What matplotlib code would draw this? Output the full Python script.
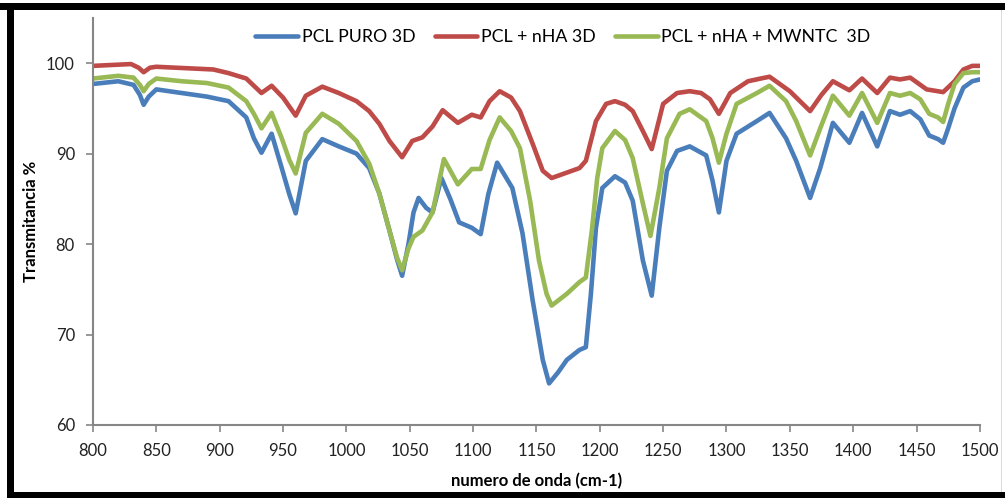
import matplotlib
matplotlib.use("Agg")
import matplotlib.pyplot as plt
from matplotlib.patches import Rectangle

# FTIR transmittance readings
wn_puro = [800, 820, 832, 837, 840, 844, 850, 870, 890, 907, 921, 927, 933, 941, 949, 955, 960,
           968, 981, 994, 1008, 1018, 1026, 1034, 1040, 1044, 1049, 1053, 1057, 1063, 1068,
           1075, 1082, 1089, 1099, 1106, 1112, 1119, 1131, 1139, 1147, 1155, 1160, 1167, 1174,
           1184, 1189, 1193, 1197, 1202, 1212, 1220, 1226, 1234, 1241, 1247, 1253, 1261, 1271,
           1284, 1289, 1294, 1300, 1308, 1324, 1334, 1347, 1355, 1366, 1374, 1384, 1397, 1407,
           1419, 1429, 1437, 1445, 1453, 1460, 1467, 1471, 1475, 1480, 1487, 1494, 1500]
t_puro = [97.7, 98.0, 97.6, 96.5, 95.4, 96.3, 97.1, 96.7, 96.3, 95.8, 94.0, 91.7, 90.1, 92.2, 88.4, 85.5, 83.4,
          89.2, 91.6, 90.8, 90.0, 88.4, 85.6, 81.5, 78.3, 76.5, 80.0, 83.5, 85.1, 84.0, 83.5,
          87.3, 85.0, 82.4, 81.8, 81.1, 85.5, 89.0, 86.2, 81.2, 73.8, 67.2, 64.6, 65.8, 67.2,
          68.3, 68.6, 74.5, 81.8, 86.2, 87.5, 86.8, 84.8, 78.2, 74.3, 81.8, 88.1, 90.3, 90.8,
          89.8, 87.0, 83.5, 89.2, 92.2, 93.6, 94.5, 91.7, 89.2, 85.1, 88.4, 93.4, 91.2, 94.5,
          90.8, 94.7, 94.3, 94.7, 93.8, 92.0, 91.6, 91.2, 92.8, 95.0, 97.3, 98.0, 98.2]

wn_nha = [800, 830, 836, 840, 845, 850, 880, 895, 907, 921, 933, 941, 950, 960, 968, 981, 994,
          1008, 1018, 1026, 1034, 1044, 1052, 1060, 1068, 1076, 1088, 1099, 1106, 1113, 1121,
          1130, 1137, 1147, 1155, 1162, 1184, 1189, 1197, 1205, 1212, 1220, 1226, 1234, 1241,
          1250, 1261, 1271, 1280, 1287, 1294, 1303, 1317, 1327, 1334, 1350, 1366, 1375, 1384,
          1397, 1407, 1419, 1429, 1437, 1445, 1458, 1471, 1480, 1487, 1494, 1500]
t_nha = [99.7, 99.9, 99.5, 99.0, 99.5, 99.6, 99.4, 99.3, 98.9, 98.3, 96.7, 97.5, 96.2, 94.2, 96.4, 97.4, 96.7,
         95.8, 94.7, 93.3, 91.4, 89.6, 91.4, 91.8, 93.0, 94.8, 93.4, 94.3, 94.0, 95.8, 96.9,
         96.2, 94.7, 91.1, 88.1, 87.3, 88.4, 89.2, 93.6, 95.5, 95.8, 95.4, 94.7, 92.5, 90.5,
         95.5, 96.7, 96.9, 96.7, 96.0, 94.4, 96.7, 98.0, 98.3, 98.5, 96.9, 94.7, 96.5, 98.0,
         97.0, 98.3, 96.7, 98.4, 98.2, 98.4, 97.1, 96.8, 98.0, 99.3, 99.7, 99.7]

wn_mwntc = [800, 820, 832, 837, 840, 844, 850, 870, 890, 907, 921, 927, 933, 941, 949, 955, 960,
            968, 981, 994, 1008, 1018, 1026, 1034, 1040, 1044, 1049, 1053, 1060, 1068, 1077,
            1088, 1099, 1106, 1113, 1121, 1130, 1137, 1145, 1152, 1158, 1162, 1174, 1184, 1189,
            1194, 1198, 1202, 1212, 1220, 1226, 1234, 1240, 1247, 1253, 1263, 1271, 1284, 1289,
            1294, 1300, 1308, 1324, 1334, 1347, 1355, 1366, 1374, 1384, 1397, 1407, 1419, 1429,
            1437, 1445, 1453, 1460, 1467, 1471, 1475, 1480, 1487, 1494, 1500]
t_mwntc = [98.3, 98.6, 98.4, 97.6, 96.9, 97.7, 98.3, 98.0, 97.8, 97.3, 95.8, 94.4, 92.8, 94.5, 91.7, 89.3, 87.8,
           92.3, 94.4, 93.3, 91.4, 88.9, 85.6, 81.5, 78.5, 77.1, 79.5, 80.8, 81.5, 83.5, 89.4,
           86.6, 88.3, 88.3, 91.5, 94.0, 92.5, 90.6, 84.8, 78.2, 74.5, 73.2, 74.5, 75.8, 76.3,
           81.8, 87.3, 90.6, 92.5, 91.5, 89.5, 84.5, 80.9, 86.2, 91.7, 94.4, 94.9, 93.6, 91.7,
           89.0, 92.2, 95.5, 96.7, 97.5, 95.8, 93.6, 89.8, 92.8, 96.4, 94.2, 96.7, 93.4, 96.7,
           96.4, 96.7, 96.0, 94.4, 94.0, 93.5, 95.5, 97.7, 98.9, 99.0, 99.0]

labels = ["PCL PURO 3D", "PCL + nHA 3D", "PCL + nHA + MWNTC  3D"]
colors = ["#4A7EBB", "#BE4B48", "#98B954"]

plt.rcParams['font.family'] = ['Lato', 'DejaVu Sans']

fig = plt.figure(figsize=(10.05, 4.98), dpi=100)
ax = fig.add_axes([0.0925, 0.1466, 0.8825, 0.8174])

for wn, t, lab, c in zip([wn_puro, wn_nha, wn_mwntc], [t_puro, t_nha, t_mwntc], labels, colors):
    ax.plot(wn, t, color=c, lw=3.3, label=lab, solid_joinstyle='round', solid_capstyle='round')

ax.set_xlim(800, 1500)
ax.set_ylim(60, 105)
ax.set_xticks(range(800, 1501, 50))
ax.set_yticks(range(60, 101, 10))
ax.tick_params(direction='out', length=5, width=1.2, color='#868686', labelsize=12, pad=8,
               labelcolor='#222222')
for s in ['top', 'right']:
    ax.spines[s].set_visible(False)
for s in ['left', 'bottom']:
    ax.spines[s].set_color('#868686')
    ax.spines[s].set_linewidth(1.5)

ax.set_xlabel('numero de onda (cm-1)', fontsize=12, fontweight='bold', labelpad=10)
ax.set_ylabel('Transmitancia %', fontsize=12, fontweight='bold', labelpad=5)

ax.legend(loc='center', bbox_to_anchor=(0.53, 0.953), ncol=3, frameon=False,
          fontsize=12.8, handlelength=2.4, columnspacing=1.1, handletextpad=0.2)

# black frame on top, left and bottom like the screenshot
for r in [(0.0, 1 - 10 / 498, 1.0, 7 / 498),
          (7 / 1005, 0.0, 7 / 1005, 1 - 3 / 498),
          (7 / 1005, 0.0, 1.0, 6 / 498)]:
    fig.add_artist(Rectangle((r[0], r[1]), r[2], r[3], transform=fig.transFigure,
                             facecolor='black', edgecolor='none'))
# faint edge on the right side
fig.add_artist(Rectangle((1001 / 1005, 6 / 498), 1 / 1005, 1 - 16 / 498, transform=fig.transFigure,
                         facecolor='#d9d9d9', edgecolor='none'))

fig.savefig('out.png', dpi=100)
